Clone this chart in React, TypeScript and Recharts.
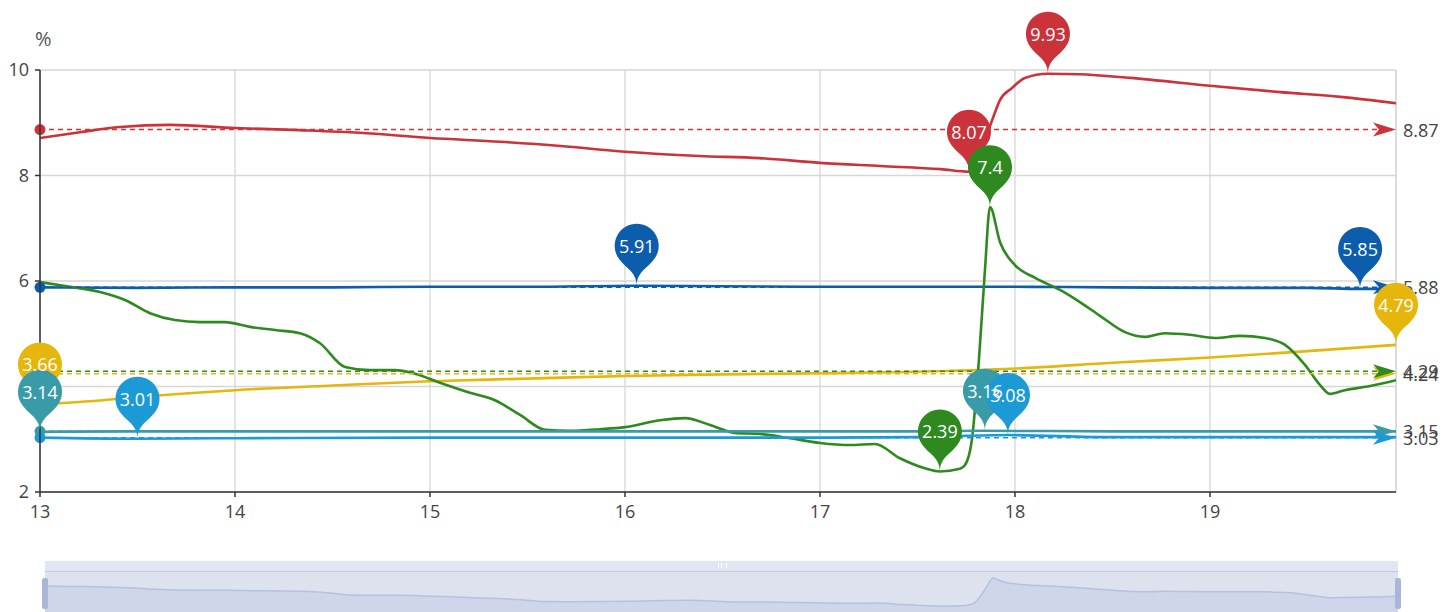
import {
  Area,
  AreaChart,
  CartesianGrid,
  Line,
  LineChart,
  ReferenceDot,
  ReferenceLine,
  XAxis,
  YAxis,
} from "recharts";

//
// axes
//
const xTicks = [13, 14, 15, 16, 17, 18, 19];
const yTicks = [2, 4, 6, 8, 10];
const xStart = 13;
const xEnd = 19.954;

//
// series values (x = day, y = %)
//
const redX = [
  13.0, 13.205, 13.41, 13.67, 14.0, 14.33, 14.64, 15.0, 15.36, 15.67, 16.0,
  16.38, 16.69, 17.0, 17.31, 17.62, 17.764, 17.795, 17.846, 17.887, 17.923,
  17.985, 18.051, 18.169, 18.33, 18.59, 19.0, 19.36, 19.67, 19.954,
];
const redY = [
  8.71, 8.82, 8.92, 8.96, 8.9, 8.86, 8.81, 8.71, 8.64, 8.56, 8.45, 8.37, 8.33,
  8.24, 8.18, 8.12, 8.07, 8.2, 8.67, 9.09, 9.43, 9.66, 9.85, 9.93, 9.92, 9.85,
  9.7, 9.58, 9.49, 9.37,
];

const navyX = [
  13.0, 13.5, 14.0, 14.5, 15.0, 15.5, 16.06, 16.5, 17.0, 17.5, 18.0, 18.5,
  19.0, 19.5, 19.77, 19.954,
];
const navyY = [
  5.88, 5.87, 5.88, 5.88, 5.89, 5.89, 5.91, 5.9, 5.89, 5.89, 5.89, 5.88, 5.87,
  5.87, 5.85, 5.86,
];

const yellowX = [
  13.0, 13.25, 13.5, 14.0, 14.5, 15.0, 15.5, 16.0, 16.5, 17.0, 17.5, 18.0,
  18.5, 19.0, 19.5, 19.954,
];
const yellowY = [
  3.66, 3.72, 3.8, 3.93, 4.02, 4.1, 4.15, 4.2, 4.23, 4.25, 4.28, 4.34, 4.45,
  4.55, 4.67, 4.79,
];

const greenX = [
  13.0, 13.154, 13.308, 13.436, 13.564, 13.692, 13.821, 13.949, 14.077,
  14.205, 14.333, 14.436, 14.564, 14.692, 14.821, 14.923, 15.051, 15.205,
  15.333, 15.462, 15.59, 15.718, 15.872, 16.0, 16.179, 16.308, 16.436, 16.564,
  16.692, 16.846, 17.0, 17.154, 17.282, 17.41, 17.538, 17.615, 17.718, 17.744,
  17.779, 17.815, 17.846, 17.872, 17.923, 18.0, 18.103, 18.231, 18.333,
  18.436, 18.564, 18.667, 18.769, 18.897, 19.026, 19.154, 19.282, 19.385,
  19.487, 19.564, 19.615, 19.692, 19.821, 19.954,
];
const greenY = [
  5.98, 5.89, 5.79, 5.64, 5.39, 5.26, 5.22, 5.22, 5.13, 5.07, 5.01, 4.82, 4.37,
  4.31, 4.31, 4.24, 4.07, 3.88, 3.74, 3.46, 3.18, 3.16, 3.19, 3.23, 3.36, 3.4,
  3.27, 3.12, 3.1, 3.02, 2.93, 2.89, 2.91, 2.64, 2.45, 2.39, 2.44, 2.51, 2.99,
  4.5, 6.21, 7.4, 6.74, 6.3, 6.06, 5.83, 5.6, 5.34, 5.03, 4.94, 5.01, 4.98,
  4.92, 4.96, 4.92, 4.79, 4.41, 4.03, 3.86, 3.93, 4.01, 4.12,
];

const tealX = [
  13.0, 13.5, 14.0, 15.0, 16.0, 17.0, 17.5, 17.846, 18.5, 19.0, 19.954,
];
const tealY = [3.14, 3.15, 3.15, 3.15, 3.15, 3.15, 3.15, 3.16, 3.15, 3.15, 3.15];

const skyX = [
  13.0, 13.5, 14.0, 15.0, 16.0, 17.0, 17.5, 17.964, 18.5, 19.0, 19.954,
];
const skyY = [3.03, 3.01, 3.02, 3.03, 3.03, 3.03, 3.04, 3.08, 3.04, 3.04, 3.04];

//
// averages (mark lines)
//
const averages = [8.87, 5.88, 4.24, 4.29, 3.15, 3.03];

const colors = ["#cb323a", "#0c5dac", "#e6b60c", "#2e8a1f", "#3a9ba8", "#1b9ad6"];

const seriesX = [redX, navyX, yellowX, greenX, tealX, skyX];
const seriesY = [redY, navyY, yellowY, greenY, tealY, skyY];

const toRows = (xs: number[], ys: number[]) =>
  xs.map((x, i) => ({ x, y: ys[i] }));

const extremes = (xs: number[], ys: number[]) => {
  let hi = 0;
  let lo = 0;
  ys.forEach((v, i) => {
    if (v > ys[hi]) hi = i;
    if (v < ys[lo]) lo = i;
  });
  return [
    { x: xs[hi], y: ys[hi] },
    { x: xs[lo], y: ys[lo] },
  ];
};

const FONT = "'Open Sans', 'Noto Sans', sans-serif";

// echarts-like pin, tip at (cx, cy)
function pinPath(cx: number, cy: number) {
  const r = 22;
  const h = 71.7;
  const dy = (r * r) / (h - r);
  const ccy = cy - h + r + dy;
  const a = Math.asin(dy / r);
  const dx = Math.cos(a) * r;
  const tx = Math.sin(a);
  const ty = Math.cos(a);
  const c1 = r * 0.6;
  const c2 = r * 0.7;
  return [
    `M ${cx - dx} ${ccy + dy}`,
    `A ${r} ${r} 0 1 1 ${cx + dx} ${ccy + dy}`,
    `C ${cx + dx - tx * c1} ${ccy + dy + ty * c1} ${cx} ${cy - c2} ${cx} ${cy}`,
    `C ${cx} ${cy - c2} ${cx - dx + tx * c1} ${ccy + dy + ty * c1} ${cx - dx} ${ccy + dy}`,
    "Z",
  ].join(" ");
}

function avgLine(color: number, value: number) {
  return (p: any) => {
    const x1 = Number(p.x1);
    const x2 = Number(p.x2);
    const y = Number(p.y1);
    if (!isFinite(x1) || !isFinite(y)) return <g />;
    return (
      <g>
        <line
          x1={x1}
          x2={x2 - 18}
          y1={y}
          y2={y}
          stroke={colors[color]}
          strokeWidth={1.5}
          strokeDasharray="5 4"
        />
        <circle cx={x1} cy={y} r={5.5} fill={colors[color]} />
        <path
          d={`M ${x2} ${y} L ${x2 - 23} ${y - 7} L ${x2 - 17} ${y} L ${x2 - 23} ${y + 7} Z`}
          fill={colors[color]}
        />
        <text
          x={x2 + 7}
          y={y}
          dominantBaseline="central"
          fontSize={18}
          fontFamily={FONT}
          fill="#444"
        >
          {value}
        </text>
      </g>
    );
  };
}

export default function App() {
  const rows = seriesX.map((xs, i) => toRows(xs, seriesY[i]));
  const marks = seriesX.map((xs, i) => extremes(xs, seriesY[i]));
  const greenRows = toRows(greenX, greenY);

  return (
    <div
      style={{
        position: "absolute",
        left: 0,
        top: 0,
        width: 1442,
        height: 612,
        background: "#fff",
        overflow: "hidden",
        fontFamily: FONT,
      }}
    >
      {/* UNIT */}
      <div
        style={{
          position: "absolute",
          left: 35,
          top: 28,
          fontSize: 20,
          color: "#555",
          lineHeight: "22px",
        }}
      >
        %
      </div>

      <LineChart
        width={1442}
        height={540}
        margin={{ top: 70, right: 46, left: 0, bottom: 18 }}
      >
        <CartesianGrid stroke="#d6d6d6" strokeWidth={1.3} />

        <XAxis
          type="number"
          dataKey="x"
          domain={[xStart, xEnd]}
          ticks={xTicks}
          allowDataOverflow
          height={30}
          tickSize={5}
          tickMargin={8}
          axisLine={{ stroke: "#333", strokeWidth: 1.5 }}
          tickLine={{ stroke: "#333", strokeWidth: 1.5 }}
          tick={{ fill: "#444", fontSize: 18, fontFamily: FONT }}
        />

        <YAxis
          type="number"
          domain={[2, 10]}
          ticks={yTicks}
          width={40}
          tickSize={5}
          tickMargin={6}
          axisLine={{ stroke: "#333", strokeWidth: 1.5 }}
          tickLine={{ stroke: "#333", strokeWidth: 1.5 }}
          tick={{ fill: "#444", fontSize: 18, fontFamily: FONT }}
        />

        <ReferenceLine x={xEnd} stroke="#d6d6d6" strokeWidth={1.3} />

        {averages.map((v, i) => (
          <ReferenceLine
            key={`avg-${i}`}
            y={v}
            ifOverflow="visible"
            zIndex={450}
            shape={avgLine(i, v)}
          />
        ))}

        {rows.map((data, i) => (
          <Line
            key={`line-${i}`}
            data={data}
            dataKey="y"
            type="monotone"
            stroke={colors[i]}
            strokeWidth={2.6}
            dot={false}
            activeDot={false}
            isAnimationActive={false}
          />
        ))}

        {marks.flatMap((pair, i) =>
          pair.map((m, j) => (
            <ReferenceDot
              key={`pin-${i}-${j}`}
              x={m.x}
              y={m.y}
              r={1}
              ifOverflow="visible"
              zIndex={2500 + i}
              shape={(p: any) => (
                <path d={pinPath(p.cx, p.cy)} fill={colors[i]} />
              )}
            />
          ))
        )}

        {marks.flatMap((pair, i) =>
          pair.map((m, j) => (
            <ReferenceDot
              key={`pin-label-${i}-${j}`}
              x={m.x}
              y={m.y}
              r={1}
              ifOverflow="visible"
              zIndex={2600}
              shape={(p: any) => (
                <text
                  x={p.cx}
                  y={p.cy - 40}
                  textAnchor="middle"
                  dominantBaseline="central"
                  fontSize={18}
                  fontFamily={FONT}
                  fill="#fff"
                >
                  {m.y}
                </text>
              )}
            />
          ))
        )}
      </LineChart>

      {/* DATA ZOOM SLIDER */}
      <div
        style={{
          position: "absolute",
          left: 45,
          top: 561,
          width: 1353,
          height: 10,
          background: "#e1e6f3",
          borderBottom: "1.5px solid #c3cbe0",
        }}
      >
        <div
          style={{
            position: "absolute",
            left: 673,
            top: 2,
            width: 7,
            height: 5,
            borderLeft: "1px solid #fff",
            borderRight: "1px solid #fff",
          }}
        >
          <div
            style={{
              position: "absolute",
              left: 2,
              top: 0,
              width: 1,
              height: 5,
              background: "#fff",
            }}
          />
        </div>
      </div>

      <div
        style={{
          position: "absolute",
          left: 45,
          top: 572,
          width: 1353,
          height: 40,
          background: "#dde2ee",
        }}
      >
        <AreaChart
          width={1353}
          height={40}
          data={greenRows}
          margin={{ top: 0, right: 0, left: 0, bottom: 0 }}
        >
          <XAxis
            type="number"
            dataKey="x"
            domain={[xStart, xEnd]}
            hide
          />
          <YAxis type="number" domain={[1.32, 8.47]} hide />
          <Area
            dataKey="y"
            type="monotone"
            stroke="#b6c1df"
            strokeWidth={1.5}
            fill="#cfd6ea"
            fillOpacity={1}
            dot={false}
            activeDot={false}
            isAnimationActive={false}
          />
        </AreaChart>
      </div>

      <div
        style={{
          position: "absolute",
          left: 42,
          top: 578,
          width: 6,
          height: 31,
          borderRadius: 2,
          background: "#a9b6d5",
        }}
      />
      <div
        style={{
          position: "absolute",
          left: 1395,
          top: 578,
          width: 6,
          height: 31,
          borderRadius: 2,
          background: "#a9b6d5",
        }}
      />
    </div>
  );
}
